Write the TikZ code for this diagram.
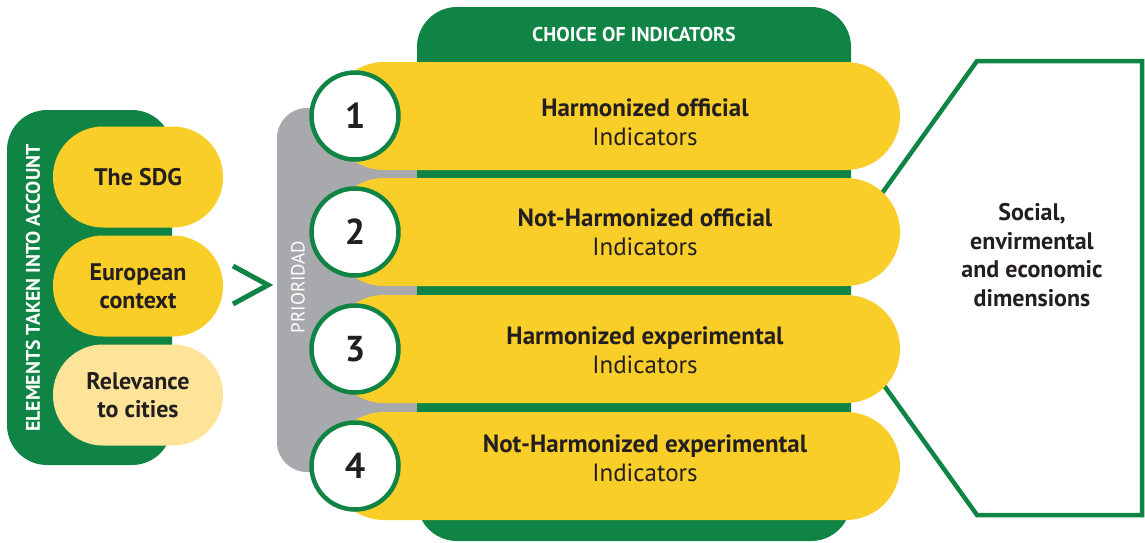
\documentclass[tikz,border=0pt]{standalone}
\usepackage{fontspec}
\setmainfont{PT Sans}
\definecolor{dgreen}{RGB}{16,132,68}
\definecolor{pyellow}{RGB}{250,206,40}
\definecolor{lyellow}{RGB}{253,228,153}
\definecolor{pgray}{RGB}{167,169,172}
\definecolor{ink}{RGB}{35,31,32}
\begin{document}
\begin{tikzpicture}[x=1pt,y=-1pt,
  lpill/.style={rectangle, rounded corners=50pt, minimum width=170pt, minimum height=101pt, inner sep=0pt, align=center, font=\fontsize{24}{28}\selectfont\bfseries, text=ink},
  bigpill/.style={rectangle, rounded corners=54pt, fill=pyellow, minimum width=570pt, minimum height=108pt, inner sep=0pt},
  pilltext/.style={align=center, text=ink, font=\fontsize{25}{29}\selectfont},
  numcirc/.style={circle, draw=dgreen, line width=4.5pt, fill=white, minimum size=87pt, inner sep=0pt, text=ink, font=\fontsize{36}{36}\selectfont\bfseries},
  outline/.style={draw=dgreen, line width=4.5pt, line join=miter}
]
\useasboundingbox (0,0) rectangle (1145,542);
% right outline
\path[outline] (814,288) -- (977,61) -- (1142,61) -- (1142,515) -- (977,515) -- cycle;
\node[align=center, text=ink, font=\fontsize{24}{28.5}\selectfont\bfseries] (dims) at (1032,255) {Social,\\envirmental\\and economic\\dimensions};
% left group
\fill[dgreen, rounded corners=40pt] (7,110) rectangle (172,465);
\node[rotate=90, text=white, font=\fontsize{19.7}{20}\selectfont\bfseries] (elem) at (33,288) {ELEMENTS TAKEN INTO ACCOUNT};
\node[lpill, fill=pyellow] (l1) at (138,177) {The SDG};
\node[lpill, fill=pyellow] (l2) at (138,286) {European\\context};
\node[lpill, fill=lyellow] (l3) at (138,395) {Relevance\\to cities};
\draw[dgreen, line width=5pt] (233,266) -- (268,285) -- (233,304);
% priority band and choice box
\fill[pgray, rounded corners=30pt] (277,108) rectangle (440,472);
\node[rotate=90, text=white, font=\fontsize{19}{19}\selectfont] (prio) at (298,287) {PRIORIDAD};
\fill[dgreen, rounded corners=40pt] (417,7) rectangle (851,541);
\node[text=white, font=\fontsize{20}{20}\selectfont\bfseries] (choice) at (634,34) {CHOICE OF INDICATORS};
% pills
\node[bigpill] (p1) at (615,116) {};
\node[bigpill] (p2) at (615,232) {};
\node[bigpill] (p3) at (615,349) {};
\node[bigpill] (p4) at (615,466) {};
\node[pilltext] (t1) at (645,122) {\textbf{Harmonized official}\\Indicators};
\node[pilltext] (t2) at (645,232) {\textbf{Not-Harmonized official}\\Indicators};
\node[pilltext] (t3) at (645,350) {\textbf{Harmonized experimental}\\Indicators};
\node[pilltext] (t4) at (645,458) {\textbf{Not-Harmonized experimental}\\Indicators};
\node[numcirc] (c1) at (355,116) {1};
\node[numcirc] (c2) at (355,232) {2};
\node[numcirc] (c3) at (355,349) {3};
\node[numcirc] (c4) at (355,466) {4};
\end{tikzpicture}
\end{document}
